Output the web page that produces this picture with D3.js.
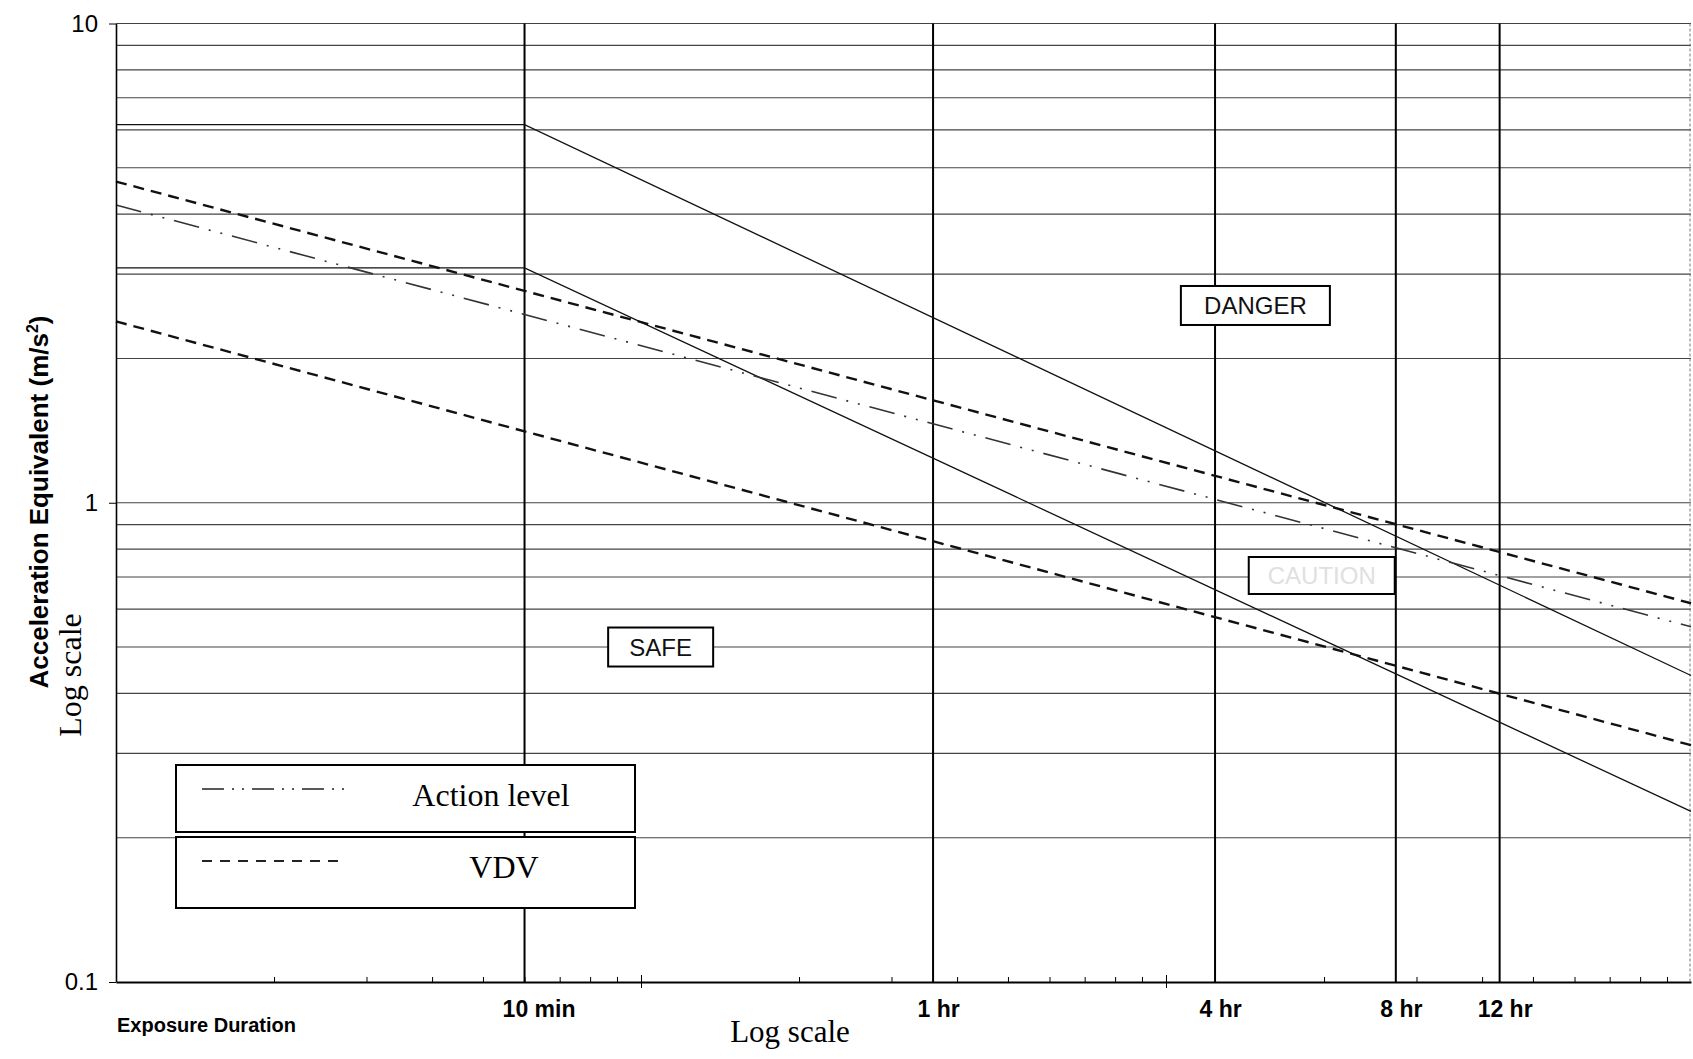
<!DOCTYPE html>
<html>
<head>
<meta charset="utf-8">
<script src="https://cdn.jsdelivr.net/npm/d3@7/dist/d3.min.js"></script>
<style>
    body { margin: 0; background: #fff; }
    svg { display: block; }
    .sans { font-family: "Liberation Sans", Arial, sans-serif; }
    .serif { font-family: "Liberation Serif", "Times New Roman", serif; }
</style>
</head>
<body>
<div id="chart"></div>
<script>
const WIDTH = 1693;
const HEIGHT = 1059;

// [exposure time (s), acceleration (m/s2)]
const solidUpper = [[100, 6.15], [600, 6.15], [100000, 0.436]];
const solidLower = [[100, 3.09], [600, 3.09], [100000, 0.227]];
const vdvUpper = [[100, 4.68], [100000, 0.617]];
const vdvLower = [[100, 2.39], [100000, 0.312]];
const actionLevel = [[100, 4.18], [100000, 0.551]];

// duration markers, in seconds as they are drawn on the original
const markerSeconds = [600, 3600, 12400, 27400, 43200];
const markerLabels = ["10 min", "1 hr", "4 hr", "8 hr", "12 hr"];

const yTicks = [0.1, 1, 10];
const yGrid = [0.2, 0.3, 0.4, 0.5, 0.6, 0.7, 0.8, 0.9, 1, 2, 3, 4, 5, 6, 7, 8, 9, 10];
const xDecades = [1000, 10000];
const xMinor = [200, 300, 400, 500, 600, 700, 800, 900,
    2000, 3000, 4000, 5000, 6000, 7000, 8000, 9000,
    20000, 30000, 40000, 50000, 60000, 70000, 80000, 90000];

// zone labels: [time (s), acceleration (m/s2)] of the label centre
const zoneNames = ["DANGER", "CAUTION", "SAFE"];
const zoneAt = [[14800, 2.58], [19800, 0.705], [1090, 0.5]];

const legendNames = ["Action level", "VDV"];

const svg = d3.select("#chart").append("svg")
    .attr("width", WIDTH)
    .attr("height", HEIGHT);

const x = d3.scaleLog().domain([100, 100000]).range([116, 1691]);
const y = d3.scaleLog().domain([0.1, 10]).range([982, 23.5]);

const line = d3.line()
    .x(d => x(d[0]))
    .y(d => y(d[1]));

// horizontal grid
svg.append("g")
    .selectAll("line")
    .data(yGrid)
    .join("line")
        .attr("x1", x(100))
        .attr("x2", x(100000))
        .attr("y1", d => y(d))
        .attr("y2", d => y(d))
        .attr("stroke", "#444")
        .attr("stroke-width", 1.2);

// right border, faint and dotted in the scan
svg.append("line")
    .attr("x1", x(100000) - 1).attr("x2", x(100000) - 1)
    .attr("y1", y(10)).attr("y2", y(0.1))
    .attr("stroke", "#777")
    .attr("stroke-dasharray", "3,2");

// duration markers
svg.append("g")
    .selectAll("line")
    .data(markerSeconds)
    .join("line")
        .attr("x1", d => x(d))
        .attr("x2", d => x(d))
        .attr("y1", y(10))
        .attr("y2", y(0.1))
        .attr("stroke", "#000")
        .attr("stroke-width", 2);

// curves
const series = [
    { data: solidUpper, dash: null, width: 1.3, color: "#111" },
    { data: solidLower, dash: null, width: 1.3, color: "#111" },
    { data: vdvUpper, dash: "11,7", width: 2.4, color: "#111" },
    { data: vdvLower, dash: "11,7", width: 2.4, color: "#111" },
    { data: actionLevel, dash: "26,10,2,10,2,10", width: 1.6, color: "#333" }
];

svg.append("g")
    .selectAll("path")
    .data(series)
    .join("path")
        .attr("d", d => line(d.data))
        .attr("fill", "none")
        .attr("stroke", d => d.color)
        .attr("stroke-width", d => d.width)
        .attr("stroke-dasharray", d => d.dash);

// zone boxes
const zoneBox = [[149, 39], [146, 37], [105, 39]];
const zones = svg.append("g")
    .selectAll("g")
    .data(zoneNames)
    .join("g")
        .attr("transform", (d, i) => "translate(" + x(zoneAt[i][0]) + "," + y(zoneAt[i][1]) + ")");

zones.append("rect")
    .attr("x", (d, i) => -zoneBox[i][0] / 2)
    .attr("y", (d, i) => -zoneBox[i][1] / 2)
    .attr("width", (d, i) => zoneBox[i][0])
    .attr("height", (d, i) => zoneBox[i][1])
    .attr("fill", "#fff")
    .attr("stroke", "#000")
    .attr("stroke-width", 2);

zones.append("text")
    .attr("class", "sans")
    .attr("text-anchor", "middle")
    .attr("dy", "0.36em")
    .attr("font-size", 24)
    .attr("fill", d => d === "CAUTION" ? "#e0e0e0" : "#111")
    .text(d => d);

// legend
const legendTop = [765, 837];
const legendH = [67, 71];
const legendDash = ["22,8,2,8,2,8", "10,8"];

const legend = svg.append("g")
    .selectAll("g")
    .data(legendNames)
    .join("g")
        .attr("transform", (d, i) => "translate(176," + legendTop[i] + ")");

legend.append("rect")
    .attr("width", 459)
    .attr("height", (d, i) => legendH[i])
    .attr("fill", "#fff")
    .attr("stroke", "#000")
    .attr("stroke-width", 2);

legend.append("line")
    .attr("x1", 26).attr("x2", 170)
    .attr("y1", (d, i) => i === 0 ? 24 : 24)
    .attr("y2", (d, i) => i === 0 ? 24 : 24)
    .attr("stroke", "#222")
    .attr("stroke-width", (d, i) => i === 0 ? 1.5 : 2)
    .attr("stroke-dasharray", (d, i) => legendDash[i]);

legend.append("text")
    .attr("class", "serif")
    .attr("x", (d, i) => i === 0 ? 315 : 328)
    .attr("y", (d, i) => i === 0 ? 41 : 41)
    .attr("text-anchor", "middle")
    .attr("font-size", 32)
    .attr("fill", "#000")
    .text(d => d);

// y axis
const yAxis = svg.append("g")
    .attr("transform", "translate(" + x(100) + ",0)")
    .call(d3.axisLeft(y).tickValues(yTicks).tickSize(7).tickSizeOuter(0).tickPadding(11)
        .tickFormat(d => d3.format("~g")(d)));
yAxis.select(".domain").attr("stroke-width", 1.6);
yAxis.selectAll("text").attr("class", "sans").attr("font-size", 24).attr("fill", "#000");

// x axis: minor ticks point up, decade ticks cross the line
const xAxis = svg.append("g")
    .attr("transform", "translate(0," + y(0.1) + ")")
    .call(d3.axisBottom(x).tickValues(xMinor).tickSizeInner(-5).tickSizeOuter(0).tickFormat(""));
xAxis.select(".domain").attr("stroke-width", 2);

svg.append("g")
    .attr("transform", "translate(0," + (y(0.1) - 7) + ")")
    .call(d3.axisBottom(x).tickValues(xDecades).tickSize(13).tickFormat(""))
    .select(".domain").remove();

const markAxis = svg.append("g")
    .attr("transform", "translate(0," + y(0.1) + ")")
    .call(d3.axisBottom(x).tickValues(markerSeconds).tickSize(0).tickPadding(19)
        .tickFormat((d, i) => markerLabels[i]));
markAxis.select(".domain").remove();
markAxis.selectAll("text")
    .attr("class", "sans")
    .attr("x", (d, i) => i === 0 ? 14 : 5)
    .attr("font-size", 23)
    .attr("font-weight", "bold")
    .attr("fill", "#000");

// titles
svg.append("text")
    .attr("class", "sans")
    .attr("transform", "translate(48,502) rotate(-90)")
    .attr("text-anchor", "middle")
    .attr("font-size", 26)
    .attr("font-weight", "bold")
    .text("Acceleration Equivalent (m/s")
    .append("tspan")
        .attr("dy", -10)
        .attr("font-size", 16)
        .text("2")
    .select(function() { return this.parentNode; })
    .append("tspan")
        .attr("dy", 10)
        .text(")");

svg.append("text")
    .attr("class", "serif")
    .attr("transform", "translate(81,675) rotate(-90)")
    .attr("text-anchor", "middle")
    .attr("font-size", 32)
    .text("Log scale");

svg.append("text")
    .attr("class", "sans")
    .attr("x", 117)
    .attr("y", 1032)
    .attr("font-size", 20)
    .attr("font-weight", "bold")
    .text("Exposure Duration");

svg.append("text")
    .attr("class", "serif")
    .attr("x", 790)
    .attr("y", 1042)
    .attr("text-anchor", "middle")
    .attr("font-size", 31)
    .text("Log scale");
</script>
</body>
</html>
